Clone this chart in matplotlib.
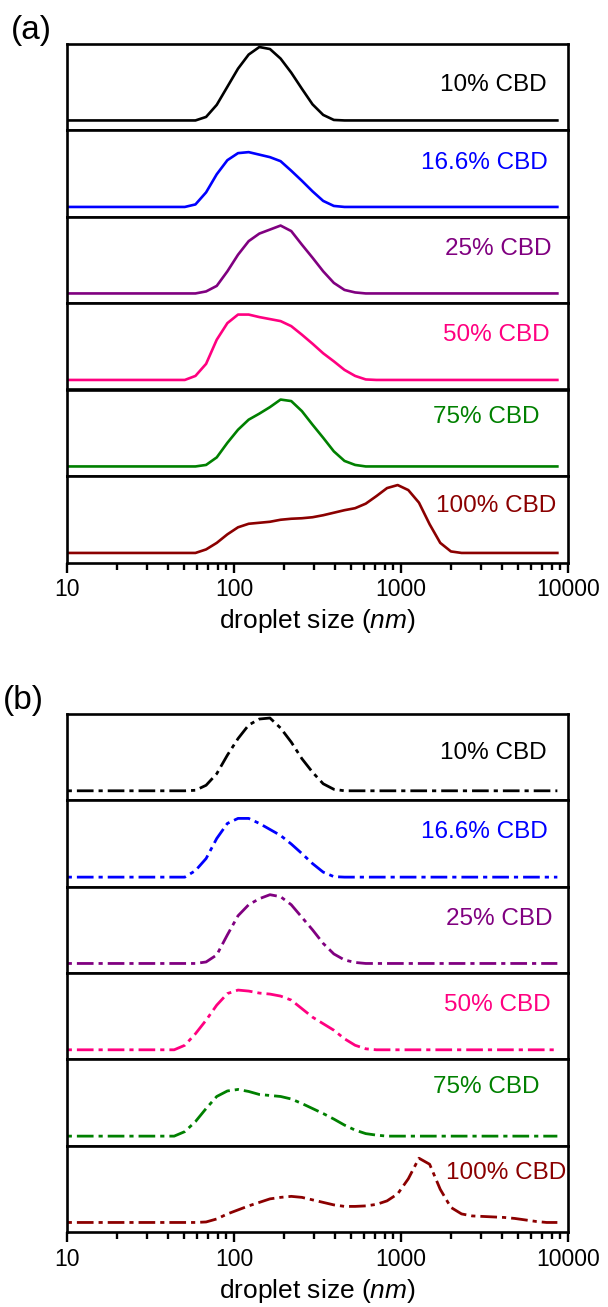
import matplotlib
matplotlib.use('Agg')
import matplotlib.pyplot as plt
from matplotlib.ticker import FixedLocator, FixedFormatter, LogLocator, NullFormatter

plt.rcParams['font.family'] = ['Liberation Sans', 'DejaVu Sans']
plt.rcParams['mathtext.fontset'] = 'custom'
plt.rcParams['mathtext.rm'] = 'Liberation Sans'
plt.rcParams['mathtext.it'] = 'Liberation Sans:italic'
plt.rcParams['lines.scale_dashes'] = False

# ---------------- data ----------------
sizes_nm = [10.1, 11.7, 13.54, 15.69, 18.17, 21.04, 24.36, 28.21, 32.67, 37.84,
            43.82, 50.75, 58.77, 68.06, 78.82, 91.28, 105.7, 122.4, 141.8, 164.2,
            190.1, 220.2, 255.0, 295.3, 342.0, 396.1, 458.7, 531.2, 615.1, 712.4,
            825.0, 955.4, 1106, 1281, 1484, 1718, 1990, 2305, 2669, 3091,
            3580, 4145, 4801, 5560, 6439, 7456, 8635]

series_labels = ['10% CBD', '16.6% CBD', '25% CBD', '50% CBD', '75% CBD', '100% CBD']
series_colors = ['#000000', '#0000FF', '#800080', '#FF0080', '#008000', '#8B0000']

xtick_values = [10, 100, 1000, 10000]
xtick_labels = ['10', '100', '1000', '10000']

# panel (a) intensities (%)
a_10 = [0, 0, 0, 0, 0, 0, 0, 0, 0, 0, 0, 0,
        0, 0.7, 3.1, 6.7, 10.3, 13.1, 14.6, 14.2, 12.3, 9.5, 6.3, 3.2, 1.1, 0.1,
        0, 0, 0, 0, 0, 0, 0, 0, 0, 0, 0, 0, 0, 0, 0, 0, 0, 0, 0, 0, 0]
a_16 = [0, 0, 0, 0, 0, 0, 0, 0, 0, 0, 0, 0,
        0.5, 2.9, 6.5, 9.3, 10.7, 10.9, 10.4, 9.9, 9.1, 7.2, 5.2, 3.1, 1.2, 0.2,
        0, 0, 0, 0, 0, 0, 0, 0, 0, 0, 0, 0, 0, 0, 0, 0, 0, 0, 0, 0, 0]
a_25 = [0, 0, 0, 0, 0, 0, 0, 0, 0, 0, 0, 0,
        0, 0.4, 1.5, 4.4, 7.7, 10.4, 11.9, 12.7, 13.5, 12.4, 9.7, 7.1, 4.4, 2.1, 0.7, 0.2,
        0, 0, 0, 0, 0, 0, 0, 0, 0, 0, 0, 0, 0, 0, 0, 0, 0, 0, 0]
a_50 = [0, 0, 0, 0, 0, 0, 0, 0, 0, 0, 0, 0,
        0.8, 3.2, 8.0, 11.3, 13.0, 13.0, 12.5, 12.1, 11.7, 10.7, 9.0, 7.2, 5.3, 3.7, 2.0, 0.8, 0.1,
        0, 0, 0, 0, 0, 0, 0, 0, 0, 0, 0, 0, 0, 0, 0, 0, 0, 0]
a_75 = [0, 0, 0, 0, 0, 0, 0, 0, 0, 0, 0, 0,
        0, 0.3, 1.8, 4.7, 7.3, 9.3, 10.5, 11.8, 13.3, 13.0, 11.0, 8.3, 5.7, 3.0, 1.1, 0.3,
        0, 0, 0, 0, 0, 0, 0, 0, 0, 0, 0, 0, 0, 0, 0, 0, 0, 0, 0]
a_100 = [0, 0, 0, 0, 0, 0, 0, 0, 0, 0, 0, 0,
         0, 0.7, 2.0, 3.7, 5.1, 5.8, 6.0, 6.2, 6.6, 6.8, 6.9, 7.1, 7.5, 8.0, 8.5, 8.9,
         9.8, 11.3, 12.9, 13.5, 12.5, 10.0, 5.7, 2.0, 0.3,
         0, 0, 0, 0, 0, 0, 0, 0, 0, 0]

# panel (b) intensities (%)
b_10 = [0, 0, 0, 0, 0, 0, 0, 0, 0, 0, 0, 0,
        0.1, 1.1, 3.4, 7.1, 10.4, 13.1, 14.3, 14.5, 12.5, 9.7, 6.4, 3.7, 1.4, 0.3,
        0, 0, 0, 0, 0, 0, 0, 0, 0, 0, 0, 0, 0, 0, 0, 0, 0, 0, 0, 0, 0]
b_16 = [0, 0, 0, 0, 0, 0, 0, 0, 0, 0, 0, 0,
        1.3, 3.7, 7.7, 10.7, 11.7, 11.7, 10.7, 9.5, 8.3, 6.6, 4.7, 2.7, 1.0, 0.1,
        0, 0, 0, 0, 0, 0, 0, 0, 0, 0, 0, 0, 0, 0, 0, 0, 0, 0, 0, 0, 0]
b_25 = [0, 0, 0, 0, 0, 0, 0, 0, 0, 0, 0, 0,
        0, 0.3, 1.7, 5.7, 9.5, 11.7, 12.9, 13.7, 13.3, 11.7, 9.2, 6.7, 4.0, 1.9, 0.7, 0.2,
        0, 0, 0, 0, 0, 0, 0, 0, 0, 0, 0, 0, 0, 0, 0, 0, 0, 0, 0]
b_50 = [0, 0, 0, 0, 0, 0, 0, 0, 0, 0, 0,
        0.9, 3.2, 5.9, 8.9, 11.2, 11.9, 11.7, 11.3, 11.1, 10.7, 9.9, 8.2, 6.5, 5.2, 3.9, 2.2, 0.9, 0.2,
        0, 0, 0, 0, 0, 0, 0, 0, 0, 0, 0, 0, 0, 0, 0, 0, 0, 0]
b_75 = [0, 0, 0, 0, 0, 0, 0, 0, 0, 0, 0,
        0.9, 2.9, 5.5, 7.9, 9.0, 9.3, 8.9, 8.3, 8.1, 7.9, 7.4, 6.5, 5.5, 4.5, 3.4, 2.2, 1.2, 0.5, 0.2,
        0, 0, 0, 0, 0, 0, 0, 0, 0, 0, 0, 0, 0, 0, 0, 0, 0]
b_100 = [0, 0, 0, 0, 0, 0, 0, 0, 0, 0, 0, 0, 0,
         0.1, 0.7, 1.7, 2.5, 3.3, 4.0, 4.7, 5.0, 5.2, 5.0, 4.5, 4.0, 3.5, 3.2, 3.2, 3.3,
         3.6, 4.3, 5.7, 8.7, 12.8, 11.6, 6.6, 3.0, 1.7, 1.3, 1.2, 1.1, 1.0, 0.8, 0.5, 0.2,
         0, 0]

panel_a = [a_10, a_16, a_25, a_50, a_75, a_100]
panel_b = [b_10, b_16, b_25, b_50, b_75, b_100]

# ---------------- layout / style ----------------
W, H = 608, 1307
fig = plt.figure(figsize=(W / 100, H / 100), dpi=100)

ax_left_px, ax_right_px = 67, 568
panels = [
    dict(data=panel_a, top=43.5, bottom=562.5, ls='-', lw=1.9, tag='(a)', tag_x=31, tag_y=31,
         lab_x=[0.957, 0.959, 0.967, 0.964, 0.944, 0.977],
         lab_y=[0.52, 0.62, 0.62, 0.63, 0.68, 0.656]),
    dict(data=panel_b, top=714.0, bottom=1232.0, ls=(0, (3.0, 3.6, 12.0, 3.6)), lw=2.0,
         tag='(b)', tag_x=23, tag_y=700,
         lab_x=[0.957, 0.959, 0.969, 0.965, 0.944, 0.997],
         lab_y=[0.545, 0.635, 0.62, 0.63, 0.68, 0.68]),
]

for p in panels:
    n = len(p['data'])
    h = (p['bottom'] - p['top']) / n
    for i, (vals, lab, col) in enumerate(zip(p['data'], series_labels, series_colors)):
        y_top = p['top'] + i * h
        rect = [ax_left_px / W, 1 - (y_top + h) / H, (ax_right_px - ax_left_px) / W, h / H]
        ax = fig.add_axes(rect)
        ax.plot(sizes_nm, vals, color=col, lw=p['lw'], linestyle=p['ls'])
        ax.set_xscale('log')
        ax.set_xlim(10, 10000)
        ax.set_ylim(-1.9, 15.3)
        ax.set_yticks([])
        for s in ax.spines.values():
            s.set_linewidth(1.9)
        ax.text(p['lab_x'][i], p['lab_y'][i], lab, color=col, fontsize=17.5,
                ha='right', va='center', transform=ax.transAxes)
        if i == n - 1:
            ax.xaxis.set_major_locator(FixedLocator(xtick_values))
            ax.xaxis.set_major_formatter(FixedFormatter(xtick_labels))
            ax.xaxis.set_minor_locator(LogLocator(base=10, subs=[2, 3, 4, 5, 6, 7, 8, 9]))
            ax.xaxis.set_minor_formatter(NullFormatter())
            ax.tick_params(axis='x', which='major', direction='out', length=7.5, width=1.7,
                           labelsize=16.5, pad=4)
            ax.tick_params(axis='x', which='minor', direction='out', length=5, width=1.7)
            ax.set_xlabel('droplet size ($\\mathit{nm}$)', fontsize=19, labelpad=4)
        else:
            ax.set_xticks([])
            ax.xaxis.set_minor_locator(FixedLocator([]))
    fig.text(p['tag_x'] / W, 1 - p['tag_y'] / H, p['tag'], fontsize=24, ha='center', va='center')

fig.savefig('out.png', dpi=100)
